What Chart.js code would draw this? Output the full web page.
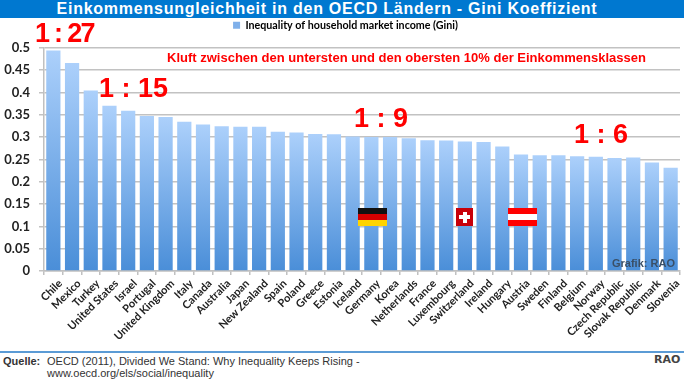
<!DOCTYPE html>
<html lang="de">
<head>
<meta charset="UTF-8">
<title>Einkommensungleichheit</title>
<script src="https://cdn.jsdelivr.net/npm/chart.js"></script>
<style>
  html, body { margin: 0; padding: 0; background: #fff; }
  #page { position: relative; width: 684px; height: 379px; overflow: hidden; font-family: "Liberation Sans", Arial, sans-serif; }
  #chartBox { position: absolute; left: 0; top: 0; width: 684px; height: 350px; }
  .abs { position: absolute; white-space: nowrap; }
  #title { left: 0; top: 0; width: 684px; height: 18px; background: #0078d0; color: #fff; font-weight: bold; font-size: 16px; line-height: 18px; letter-spacing: 0.75px; text-align: center; padding-right: 30px; box-sizing: border-box; }
  .ratio { color: #f00; font-weight: bold; font-size: 27px; line-height: 28px; }
  #gap { left: 167px; top: 50px; color: #f00; font-weight: bold; font-size: 13px; line-height: 15px; }
  #credit { left: 612px; top: 257px; color: #3a4f66; font-weight: bold; font-size: 11px; line-height: 13px; }
  #rule { left: 0; top: 351px; width: 684px; height: 2px; background: #5b9bd5; }
  .src { font-size: 11px; line-height: 12px; color: #333; }
  .flag { position: absolute; top: 208px; height: 18px; }
  #de { left: 358px; width: 29px; background: linear-gradient(#111 0 33%, #d40000 33% 66%, #ffd400 66% 100%); }
  #ch { left: 456px; width: 17px; background: #c8000a; }
  #ch::before { content: ""; position: absolute; left: 7px; top: 4px; width: 4px; height: 11px; background: #fff; }
  #ch::after { content: ""; position: absolute; left: 3px; top: 7px; width: 11px; height: 4px; background: #fff; }
  #at { left: 508px; width: 29px; background: linear-gradient(#f00 0 33%, #fff 33% 66%, #f00 66% 100%); }
</style>
</head>
<body>
<div id="page">
  <div id="chartBox"><canvas id="giniChart"></canvas></div>
  <div class="abs" id="title">Einkommensungleichheit in den OECD Ländern - Gini Koeffizient</div>
  <div class="abs ratio" style="left:35px;top:19px;letter-spacing:-1.7px">1 : 27</div>
  <div class="abs ratio" style="left:99px;top:74px">1 : 15</div>
  <div class="abs ratio" style="left:354px;top:104px">1 : 9</div>
  <div class="abs ratio" style="left:574px;top:120px">1 : 6</div>
  <div class="abs" id="gap">Kluft zwischen den untersten und den obersten 10% der Einkommensklassen</div>
  <div class="flag" id="de"></div>
  <div class="flag" id="ch"></div>
  <div class="flag" id="at"></div>
  <div class="abs" id="credit">Grafik: RAO</div>
  <div class="abs" id="rule"></div>
  <div class="abs src" style="left:3px;top:355px;font-weight:bold">Quelle:</div>
  <div class="abs src" style="left:47px;top:355px">OECD (2011), Divided We Stand: Why Inequality Keeps Rising -</div>
  <div class="abs src" style="left:47px;top:367px">www.oecd.org/els/social/inequality</div>
  <div class="abs" style="left:654px;top:354px;font-family:'DejaVu Sans';font-weight:bold;font-size:11px;line-height:12px;color:#444">RAO</div>
</div>

<script>
const countries = ['Chile','Mexico','Turkey','United States','Israel','Portugal','United Kingdom','Italy','Canada','Australia','Japan','New Zealand','Spain','Poland','Greece','Estonia','Iceland','Germany','Korea','Netherlands','France','Luxembourg','Switzerland','Ireland','Hungary','Austria','Sweden','Finland','Belgium','Norway','Czech Republic','Slovak Republic','Denmark','Slovenia'];
const gini = [0.494,0.466,0.404,0.370,0.359,0.347,0.345,0.334,0.328,0.324,0.323,0.323,0.312,0.310,0.307,0.306,0.301,0.300,0.300,0.297,0.293,0.292,0.290,0.289,0.279,0.261,0.259,0.259,0.257,0.256,0.253,0.254,0.243,0.231];
const seriesName = 'Inequality of household market income (Gini)';

function barFill(ctx) {
  const chart = ctx.chart;
  if (!chart.chartArea || ctx.raw === undefined) return '#7fb0ea';
  const y = chart.scales.y;
  const g = chart.ctx.createLinearGradient(0, y.getPixelForValue(ctx.raw), 0, y.getPixelForValue(0));
  g.addColorStop(0, '#acd0fb');
  g.addColorStop(1, '#4a8ed8');
  return g;
}

// legend sits a bit right of centre and leaves a gap above the plot
const legendNudge = {
  id: 'legendNudge',
  beforeInit(chart) {
    const fit = chart.legend.fit;
    chart.legend.fit = function () {
      fit.call(this);
      this.height += 7;
    };
  },
  afterLayout(chart) {
    chart.legend.left += 5.5;
    chart.legend.right += 5.5;
  }
};

new Chart(document.getElementById('giniChart'), {
  type: 'bar',
  data: {
    labels: countries,
    datasets: [{ label: seriesName, data: gini, backgroundColor: barFill, categoryPercentage: 0.76, barPercentage: 1 }]
  },
  plugins: [legendNudge],
  options: {
    responsive: true,
    maintainAspectRatio: false,
    animation: false,
    layout: { padding: { top: 9, right: 4, left: 0, bottom: 0 } },
    plugins: {
      tooltip: { enabled: false },
      legend: {
        position: 'top',
        labels: {
          boxWidth: 7, boxHeight: 7, padding: 11, color: '#000',
          font: { family: 'Lato', weight: 'bold', size: 10.7 },
          generateLabels: chart => [{ text: seriesName, fillStyle: '#7fb0ea', strokeStyle: '#7fb0ea', lineWidth: 0 }]
        }
      }
    },
    scales: {
      y: {
        min: 0, max: 0.5,
        afterFit: s => { s.width = 44; },
        ticks: {
          stepSize: 0.05, padding: 9, color: '#222',
          font: { family: 'Lato', weight: 'bold', size: 13 },
          callback: v => String(+v.toFixed(2))
        },
        grid: { color: '#c2c2c2', lineWidth: 1.5, tickLength: 5 },
        border: { color: '#c0c0c0', width: 1.5 }
      },
      x: {
        afterFit: s => { s.height = 79; },
        ticks: {
          minRotation: 45, maxRotation: 45, autoSkip: false, padding: 2, labelOffset: 7, color: '#222',
          font: { family: 'Lato', weight: 'bold', size: 11 }
        },
        grid: { drawOnChartArea: false, color: '#c0c0c0', lineWidth: 1.5, tickLength: 4 },
        border: { color: '#c0c0c0', width: 1.5 }
      }
    }
  }
});
</script>
</body>
</html>
